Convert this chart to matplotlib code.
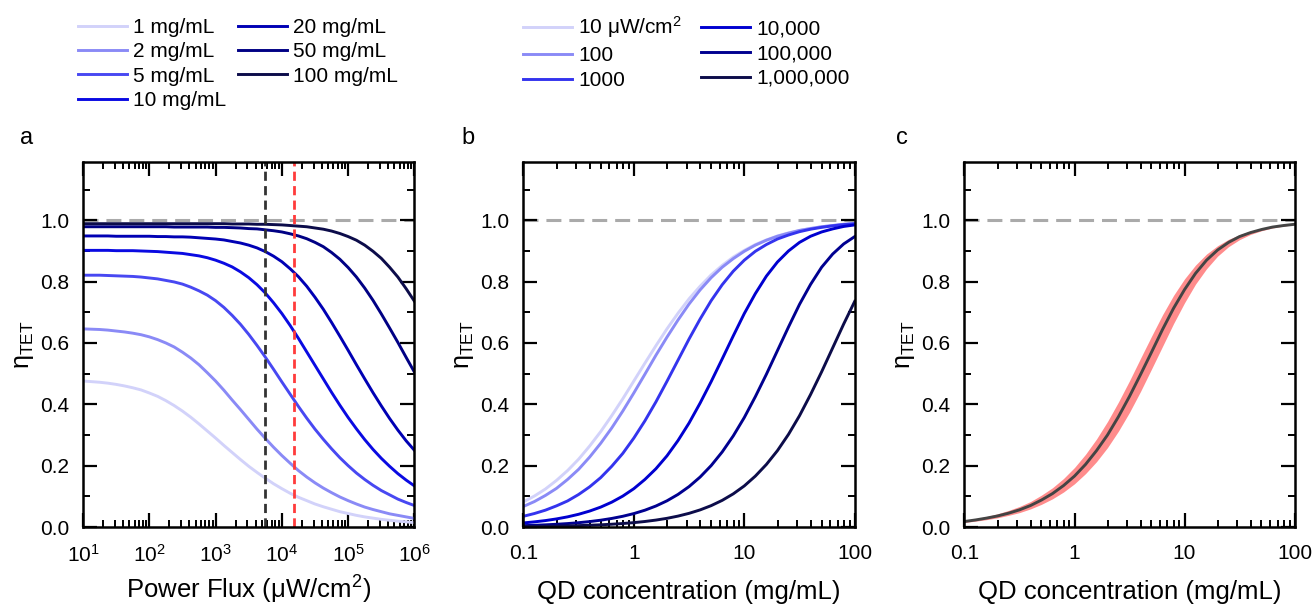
import matplotlib
matplotlib.use("Agg")
import matplotlib.pyplot as plt
from matplotlib.ticker import LogLocator, MultipleLocator, NullFormatter

plt.rcParams["font.family"] = "Liberation Sans"
plt.rcParams["mathtext.fontset"] = "custom"
plt.rcParams["mathtext.rm"] = "Liberation Sans"
plt.rcParams["mathtext.it"] = "Liberation Sans:italic"
plt.rcParams["font.size"] = 15

# panel a: eta_TET vs power flux, one curve per QD concentration
flux = [10, 13.34, 17.78, 23.71, 31.62, 42.17, 56.23, 74.99, 100, 133.4, 177.8, 237.1,
        316.2, 421.7, 562.3, 749.9, 1000, 1334, 1778, 2371, 3162, 4217, 5623, 7499,
        10000, 13335, 17783, 23714, 31623, 42170, 56234, 74989, 1e5, 133352, 177828,
        237137, 316228, 421697, 562341, 749894, 1e6]
eta_1mg = [0.476, 0.474, 0.472, 0.469, 0.465, 0.460, 0.454, 0.447, 0.437, 0.426, 0.412,
           0.396, 0.378, 0.358, 0.336, 0.313, 0.290, 0.266, 0.243, 0.220, 0.198, 0.178,
           0.159, 0.141, 0.125, 0.110, 0.097, 0.086, 0.075, 0.066, 0.058, 0.050, 0.044,
           0.038, 0.033, 0.029, 0.025, 0.022, 0.019, 0.017, 0.014]
eta_2mg = [0.646, 0.645, 0.644, 0.642, 0.639, 0.636, 0.632, 0.627, 0.620, 0.611, 0.600,
           0.587, 0.570, 0.551, 0.529, 0.503, 0.476, 0.446, 0.414, 0.383, 0.351, 0.319,
           0.289, 0.260, 0.233, 0.208, 0.184, 0.163, 0.144, 0.127, 0.112, 0.098, 0.086,
           0.075, 0.065, 0.057, 0.050, 0.043, 0.038, 0.033, 0.028]
eta_5mg = [0.821, 0.821, 0.821, 0.820, 0.819, 0.818, 0.817, 0.815, 0.812, 0.809, 0.804,
           0.799, 0.792, 0.782, 0.770, 0.756, 0.738, 0.716, 0.690, 0.661, 0.628, 0.592,
           0.554, 0.514, 0.473, 0.433, 0.393, 0.355, 0.319, 0.286, 0.255, 0.226, 0.200,
           0.176, 0.155, 0.136, 0.119, 0.105, 0.091, 0.080, 0.070]
eta_10mg = [0.902, 0.902, 0.902, 0.902, 0.901, 0.901, 0.901, 0.900, 0.899, 0.898, 0.896,
            0.894, 0.892, 0.888, 0.884, 0.878, 0.870, 0.860, 0.848, 0.832, 0.813, 0.790,
            0.763, 0.731, 0.696, 0.657, 0.615, 0.571, 0.527, 0.483, 0.439, 0.397, 0.357,
            0.320, 0.285, 0.253, 0.224, 0.198, 0.174, 0.153, 0.134]
eta_20mg = [0.949, 0.949, 0.949, 0.949, 0.948, 0.948, 0.948, 0.948, 0.948, 0.947, 0.947,
            0.946, 0.946, 0.945, 0.943, 0.941, 0.939, 0.936, 0.931, 0.926, 0.919, 0.910,
            0.898, 0.883, 0.865, 0.842, 0.816, 0.785, 0.749, 0.710, 0.667, 0.622, 0.576,
            0.529, 0.483, 0.438, 0.395, 0.354, 0.316, 0.281, 0.250]
eta_50mg = [0.979, 0.979, 0.979, 0.979, 0.979, 0.979, 0.979, 0.979, 0.979, 0.979, 0.979,
            0.978, 0.978, 0.978, 0.978, 0.978, 0.977, 0.977, 0.976, 0.975, 0.973, 0.972,
            0.969, 0.966, 0.962, 0.956, 0.949, 0.940, 0.928, 0.914, 0.895, 0.873, 0.846,
            0.815, 0.779, 0.739, 0.695, 0.649, 0.602, 0.553, 0.505]
eta_100mg = [0.989, 0.989, 0.989, 0.989, 0.989, 0.989, 0.989, 0.989, 0.989, 0.989, 0.989,
             0.989, 0.989, 0.989, 0.989, 0.989, 0.989, 0.989, 0.988, 0.988, 0.988, 0.987,
             0.987, 0.986, 0.985, 0.983, 0.981, 0.979, 0.975, 0.971, 0.965, 0.957, 0.947,
             0.935, 0.919, 0.899, 0.876, 0.847, 0.815, 0.777, 0.736]
conc_labels = ["1 mg/mL", "2 mg/mL", "5 mg/mL", "10 mg/mL", "20 mg/mL", "50 mg/mL", "100 mg/mL"]
conc_colors = ["#d2d2fa", "#8a8af6", "#4848f2", "#0a0ae2", "#0000b4", "#000084", "#0c0c4a"]
flux_marks = [5500, 15000]

# panel b: eta_TET vs concentration, one curve per power flux
conc = [0.1, 0.1259, 0.1585, 0.1995, 0.2512, 0.3162, 0.3981, 0.5012, 0.631, 0.7943,
        1, 1.259, 1.585, 1.995, 2.512, 3.162, 3.981, 5.012, 6.31, 7.943,
        10, 12.59, 15.85, 19.95, 25.12, 31.62, 39.81, 50.12, 63.1, 79.43, 100]
eta_p10 = [0.082, 0.101, 0.124, 0.152, 0.184, 0.221, 0.264, 0.311, 0.363, 0.418,
           0.476, 0.534, 0.591, 0.646, 0.697, 0.744, 0.785, 0.822, 0.853, 0.880,
           0.902, 0.921, 0.936, 0.949, 0.959, 0.967, 0.974, 0.979, 0.983, 0.987, 0.989]
eta_p100 = [0.067, 0.083, 0.103, 0.126, 0.155, 0.188, 0.228, 0.273, 0.323, 0.378,
            0.437, 0.498, 0.560, 0.619, 0.675, 0.727, 0.773, 0.813, 0.847, 0.875,
            0.899, 0.919, 0.935, 0.948, 0.958, 0.967, 0.973, 0.979, 0.983, 0.987, 0.989]
eta_p1000 = [0.035, 0.044, 0.055, 0.069, 0.085, 0.106, 0.131, 0.161, 0.198, 0.240,
             0.290, 0.346, 0.408, 0.475, 0.544, 0.613, 0.678, 0.738, 0.790, 0.834,
             0.870, 0.899, 0.921, 0.939, 0.952, 0.963, 0.971, 0.977, 0.982, 0.986, 0.989]
eta_p1e4 = [0.0133, 0.0168, 0.0210, 0.0264, 0.0331, 0.0415, 0.0520, 0.0649, 0.0810, 0.1008,
            0.125, 0.155, 0.190, 0.232, 0.282, 0.339, 0.404, 0.474, 0.548, 0.623,
            0.696, 0.761, 0.818, 0.864, 0.900, 0.928, 0.948, 0.962, 0.972, 0.980, 0.985]
eta_p1e5 = [0.0045, 0.0056, 0.0071, 0.0089, 0.0112, 0.0141, 0.0177, 0.0222, 0.0279, 0.0350,
            0.0438, 0.0548, 0.0685, 0.0854, 0.1063, 0.1318, 0.1629, 0.2003, 0.2448, 0.2970,
            0.357, 0.425, 0.498, 0.575, 0.652, 0.726, 0.791, 0.847, 0.890, 0.923, 0.947]
eta_p1e6 = [0.0014, 0.0018, 0.0023, 0.0029, 0.0036, 0.0046, 0.0057, 0.0072, 0.0091, 0.0114,
            0.0143, 0.0180, 0.0226, 0.0283, 0.0356, 0.0446, 0.0558, 0.0697, 0.0869, 0.1081,
            0.134, 0.166, 0.204, 0.249, 0.302, 0.363, 0.432, 0.506, 0.584, 0.662, 0.736]
flux_labels = [r"10 $\mathregular{\mu}$W/cm$^\mathregular{2}$", "100", "1000",
               "10,000", "100,000", "1,000,000"]
flux_colors = ["#d2d2fa", "#8a8af6", "#3434ee", "#0000d0", "#000090", "#0c0c4a"]

# panel c: eta_TET vs concentration at the marked power, with uncertainty band
eta_c = [0.018, 0.023, 0.029, 0.036, 0.045, 0.056, 0.070, 0.088, 0.109, 0.135,
         0.166, 0.204, 0.249, 0.300, 0.360, 0.426, 0.497, 0.570, 0.644, 0.713,
         0.774, 0.827, 0.870, 0.903, 0.928, 0.947, 0.960, 0.970, 0.978, 0.983, 0.987]
eta_c_hi = [0.022, 0.027, 0.034, 0.043, 0.054, 0.067, 0.083, 0.104, 0.128, 0.158,
            0.194, 0.237, 0.287, 0.344, 0.408, 0.477, 0.550, 0.622, 0.692, 0.755,
            0.809, 0.854, 0.890, 0.917, 0.938, 0.953, 0.965, 0.973, 0.979, 0.984, 0.988]
eta_c_lo = [0.015, 0.019, 0.024, 0.030, 0.038, 0.047, 0.059, 0.074, 0.092, 0.114,
            0.141, 0.174, 0.213, 0.259, 0.313, 0.374, 0.442, 0.515, 0.589, 0.663,
            0.731, 0.792, 0.842, 0.883, 0.914, 0.937, 0.954, 0.966, 0.975, 0.981, 0.986]

fig = plt.figure(figsize=(13.14, 6.08), dpi=100)
ax_a = fig.add_axes([0.0632, 0.1332, 0.2522, 0.6003])
ax_b = fig.add_axes([0.3983, 0.1332, 0.2522, 0.6003])
ax_c = fig.add_axes([0.7340, 0.1332, 0.2512, 0.6003])


def style(ax, xlabel):
    ax.set_xscale("log")
    ax.set_ylim(0, 1.19)
    ax.yaxis.set_minor_locator(MultipleLocator(0.1))
    ax.set_yticks([0, 0.2, 0.4, 0.6, 0.8, 1.0], ["0.0", "0.2", "0.4", "0.6", "0.8", "1.0"])
    ax.xaxis.set_minor_locator(LogLocator(base=10, subs=range(2, 10), numticks=20))
    ax.xaxis.set_minor_formatter(NullFormatter())
    ax.tick_params(which="both", direction="in", top=True, right=True, labelsize=15)
    ax.tick_params(which="major", length=10, width=1.6)
    ax.tick_params(which="minor", length=5, width=1.4)
    ax.tick_params(axis="x", pad=12)
    ax.tick_params(axis="y", pad=10)
    for s in ax.spines.values():
        s.set_linewidth(1.8)
    ax.set_ylabel(r"η$_\mathregular{TET}$", fontsize=18, labelpad=3)
    ax.set_xlabel(xlabel, fontsize=18.5, va="baseline")
    ax.xaxis.set_label_coords(0.5, -0.197)
    ax.axhline(1.0, color="#aaaaaa", lw=2.2, dashes=(4.9, 2.6), zorder=1)


# a
style(ax_a, r"Power Flux ($\mathregular{\mu}$W/cm$^\mathregular{2}$)")
for y, lab, col in zip([eta_1mg, eta_2mg, eta_5mg, eta_10mg, eta_20mg, eta_50mg, eta_100mg],
                       conc_labels, conc_colors):
    ax_a.plot(flux, y, color=col, lw=2.1, label=lab)
ax_a.axvline(flux_marks[0], color="#333333", lw=2, dashes=(3.3, 1.9))
ax_a.axvline(flux_marks[1], color="#ff3b3b", lw=2, dashes=(3.3, 1.9))
ax_a.set_xlim(10, 1e6)
ax_a.xaxis.set_major_locator(LogLocator(base=10, numticks=10))

# b
style(ax_b, "QD concentration (mg/mL)")
for y, lab, col in zip([eta_p10, eta_p100, eta_p1000, eta_p1e4, eta_p1e5, eta_p1e6],
                       flux_labels, flux_colors):
    ax_b.plot(conc, y, color=col, lw=2.1, label=lab)
ax_b.set_xlim(0.1, 100)
ax_b.set_xticks([0.1, 1, 10, 100], ["0.1", "1", "10", "100"])

# c
style(ax_c, "QD concentration (mg/mL)")
ax_c.fill_between(conc, eta_c_lo, eta_c_hi, color="#ff8c8c", lw=0)
ax_c.plot(conc, eta_c, color="#444444", lw=2.1)
ax_c.set_xlim(0.1, 100)
ax_c.set_xticks([0.1, 1, 10, 100], ["0.1", "1", "10", "100"])

h, l = ax_a.get_legend_handles_labels()
fig.legend(h, l, loc="upper left", bbox_to_anchor=(0.0594, 0.970), ncol=2, frameon=False,
           fontsize=15, borderpad=0, borderaxespad=0, handlelength=2.35, handletextpad=0.3,
           columnspacing=0.55, labelspacing=0.25)
h, l = ax_b.get_legend_handles_labels()
fig.legend(h, l, loc="upper left", bbox_to_anchor=(0.398, 0.976), ncol=2, frameon=False,
           fontsize=15, borderpad=0, borderaxespad=0, handlelength=2.35, handletextpad=0.3,
           columnspacing=0.9, labelspacing=0.28)

for x, t in [(0.015, "a"), (0.351, "b"), (0.682, "c")]:
    fig.text(x, 0.773, t, fontsize=17, va="center")

fig.savefig("out.png", dpi=100)
